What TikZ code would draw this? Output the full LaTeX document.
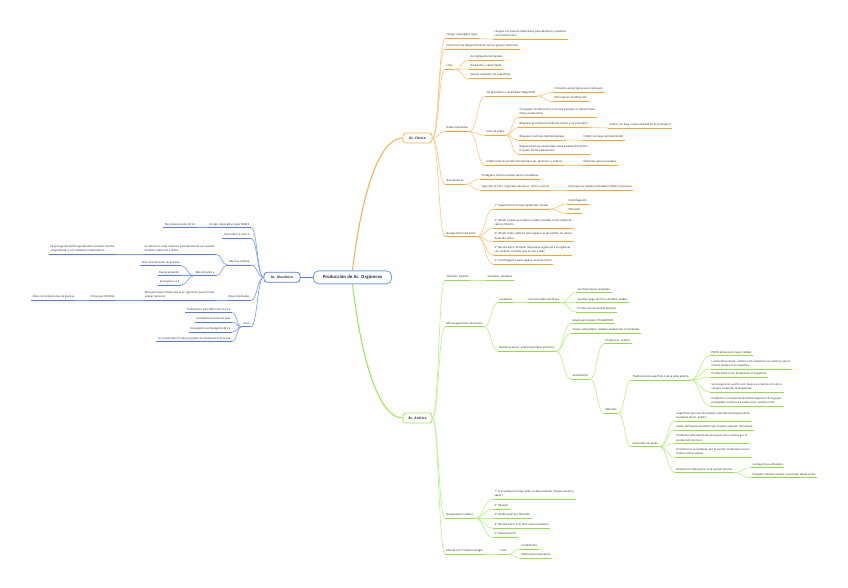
\documentclass[tikz,border=0pt]{standalone}
\usepackage{fontspec}
\setmainfont{Open Sans}
\usetikzlibrary{calc}
\definecolor{txt}{RGB}{30,30,30}
\definecolor{navy}{RGB}{40,52,72}
\definecolor{orU}{RGB}{255,165,45}
\definecolor{orC}{RGB}{255,200,130}
\definecolor{orM}{RGB}{255,178,80}
\definecolor{grU}{RGB}{145,226,60}
\definecolor{grC}{RGB}{190,240,140}
\definecolor{grM}{RGB}{160,232,85}
\definecolor{blU}{RGB}{82,128,240}
\definecolor{blC}{RGB}{120,160,245}
\definecolor{rootB}{RGB}{115,165,240}
\tikzset{
  leafbase/.style={font=\fontsize{2.7}{4.2}\selectfont, text=txt, inner xsep=1.4pt, inner ysep=1.9pt, text depth=0.6pt, align=left},
  oleaf/.style={leafbase, anchor=south west, append after command={(\tikzlastnode.south west) edge[draw=orU, line width=0.8pt] (\tikzlastnode.south east)}},
  gleaf/.style={leafbase, anchor=south west, append after command={(\tikzlastnode.south west) edge[draw=grU, line width=0.8pt] (\tikzlastnode.south east)}},
  bleaf/.style={leafbase, anchor=south east, append after command={(\tikzlastnode.south west) edge[draw=blU, line width=0.8pt] (\tikzlastnode.south east)}},
  ocon/.style={draw=orC, line width=0.65pt},
  gcon/.style={draw=grC, line width=0.65pt},
  bcon/.style={draw=blC, line width=0.65pt},
  subbox/.style={rounded corners=3pt, line width=0.8pt, fill=white, minimum width=29pt, minimum height=10pt, inner sep=0pt, font=\bfseries\fontsize{3.3}{4}\selectfont, text=navy},
  rootbox/.style={draw=rootB, rounded corners=5pt, line width=0.9pt, fill=white, minimum width=78pt, minimum height=13pt, inner sep=0pt, font=\bfseries\fontsize{4.2}{5}\selectfont, text=navy},
}
\newcommand\link[3]{\draw[#1] let \p1=(#2), \p2=(#3), \n1={(\x2-\x1)*0.5}, \n2={(\x1-\x2)*0.5} in (\p1) .. controls +(\n1,0) and +(\n2,0) .. (\p2);}
\begin{document}
\begin{tikzpicture}[x=1pt,y=-1pt]
\fill[white] (0,0) rectangle (848,588);
\useasboundingbox (0,0) rectangle (848,588);

% ---------- main nodes
\node[rootbox] (R) at (352.5,277.3) {Producción de Ac. Orgánicos};
\node[subbox, draw=orM] (AC) at (417.5,138) {Ác. Cítrico};
\node[subbox, draw=grM] (AA) at (417.5,418) {Ác. Acético};
\node[subbox, draw=blU, minimum width=36pt] (AG) at (282,277.3) {Ác. Glucónico};

\draw[orM, line width=1.1pt] (R.north) .. controls (362,190) and (380,138) .. (AC.west);
\draw[grM, line width=1.1pt] (R.south) .. controls (362,365) and (380,418) .. (AA.west);
\draw[blU, line width=1pt] (R.west) -- (AG.east);

% ---------- Acido citrico
\node[oleaf] (c1) at (445,38.7) {Hongo: Aspergillus niger};
\node[oleaf] (c1a) at (493,39) {Hongos son buenos fabricantes para alimento y catalizar\\como fuente de C};
\node[oleaf] (c2) at (445,49) {Forma técnica (Desprotonando los tres grupos carboxilo)};
\node[oleaf] (c3) at (445,69.3) {Usos};
\node[oleaf] (c3a) at (469,60) {Acomplejante de metales};
\node[oleaf] (c3b) at (469,69) {Acidulante y saborizante};
\node[oleaf] (c3c) at (469,78.7) {Evita la oxidación de superficies};
\node[oleaf] (c4) at (445,131.7) {Rutas implicadas};
\node[oleaf] (c4a) at (485,96) {Vía glucolítica o vía Embden Meyerhoff};
\node[oleaf] (c4a1) at (553,92.3) {Convierte azúcar (glucosa) en piruvato};
\node[oleaf] (c4a2) at (553,101.7) {NO requiere modificación};
\node[oleaf] (c4b) at (485,135.3) {Ciclo de Krebs};
\node[oleaf] (c4b1) at (518,117.7) {SÍ requiere modificación (en la ruta piruvato se transforma a\\CO2 y oxalacetato)};
\node[oleaf] (c4b2) at (518,127.5) {Bloquear aconitasa (transforma citrato a cis-aconitato)};
\node[oleaf] (c4b2a) at (608,128) {Inhibir con baja o nula cantidad de Fe (activador)};
\node[oleaf] (c4b3) at (518,140) {Bloquear isocitrato deshidrogenasa};
\node[oleaf] (c4b3a) at (582,140.3) {Inhibir con baja cantidad de Mn};
\node[oleaf] (c4b4) at (518,154) {Regeneración de oxalacetato: Ruta anaplerótica (CO2 +\\Piruvato forma oxalacetato)};
\node[oleaf] (c4c) at (485,165.3) {Inhibir rutas de producción laterales (ac. glucónico y oxálico)};
\node[oleaf] (c4c1) at (582,165.3) {Mutantes glucosa oxidasa};
\node[oleaf] (c5) at (445,184.3) {Biorreactores};
\node[oleaf] (c5a) at (480,179) {Protegidos contra la acidez (acero inoxidable)};
\node[oleaf] (c5b) at (480,190) {Soportan pH de 1-2 (producción de ac. cítrico a pH<2)};
\node[oleaf] (c5b1) at (567,190) {Evita que los metales (solubles) inhiban el proceso};
\node[oleaf] (c6) at (445,236.7) {Recuperación del ácido};
\node[oleaf] (c6a) at (493,209) {1° Separación de la fase líquida del micelio};
\node[oleaf] (c6a1) at (567,204) {Centrifugación};
\node[oleaf] (c6a2) at (567,213.7) {Filtración};
\node[oleaf] (c6b) at (493,228.3) {2° Añadir cal para precipitar el ácido (soluble) como citrato de\\calcio y filtrarlo};
\node[oleaf] (c6c) at (493,241.7) {3° Añadir ácido sulfúrico para separar la sal (sulfato de calcio)\\del ácido cítrico};
\node[oleaf] (c6d) at (493,255) {4° Decoloración: Eliminar impurezas orgánicas e inorgánicas\\con carbono activado que se une a ellas};
\node[oleaf] (c6e) at (493,264) {5° Centrifugación para separar el ácido cítrico};

\foreach \a/\b in {AC.east/c1, AC.east/c2, AC.east/c3, AC.east/c4, AC.east/c5, AC.east/c6,
  c1.south east/c1a, c3.south east/c3a, c3.south east/c3b, c3.south east/c3c,
  c4.south east/c4a, c4.south east/c4b, c4.south east/c4c,
  c4a.south east/c4a1, c4a.south east/c4a2,
  c4b.south east/c4b1, c4b.south east/c4b2, c4b.south east/c4b3, c4b.south east/c4b4,
  c4b2.south east/c4b2a, c4b3.south east/c4b3a, c4c.south east/c4c1,
  c5.south east/c5a, c5.south east/c5b, c5b.south east/c5b1,
  c6.south east/c6a, c6.south east/c6b, c6.south east/c6c, c6.south east/c6d, c6.south east/c6e,
  c6a.south east/c6a1, c6a.south east/c6a2}
  {\link{ocon}{\a}{\b.south west}}

% ---------- Acido gluconico
\node[bleaf] (g1) at (251,227.7) {Hongo: Aspergillus niger NRRL3};
\node[bleaf] (g1a) at (197,227.7) {No produce ácido cítrico};
\node[bleaf] (g2) at (251,238.3) {Se produce a pH 6-7};
\node[bleaf] (g3) at (251,265) {Glucosa oxidasa};
\node[bleaf] (g3a) at (216,254.3) {Se reduce en cada reacción, para devolverla a su estado\\oxidado reduce O2 a H2O2};
\node[bleaf] (g3a1) at (116,254.3) {Se protege del H2O2 separándolo al medio (mucha\\competencia) y con catalasas intracelulares};
\node[bleaf] (g3b) at (216,275.7) {Más eficiente a};
\node[bleaf] (g3b1) at (181,265.7) {Alta concentración de glucosa};
\node[bleaf] (g3b2) at (181,275.7) {Buena aireación};
\node[bleaf] (g3b3) at (181,285) {pH superior a 4};
\node[bleaf] (g4) at (251,300.3) {Rutas implicadas};
\node[bleaf] (g4a) at (216,300.3) {Ruta pentosas fosfato (usa el ác. glucónico para formar\\azúcar nucleico)};
\node[bleaf] (g4a1) at (116,300.3) {Sí hay que inhibirla};
\node[bleaf] (g4a1a) at (76,300.3) {Altas concentraciones de glucosa};
\node[bleaf] (g5) at (251,326.7) {Usos};
\node[bleaf] (g5a) at (232,312.7) {Tratamiento para déficit de Ca y Fe};
\node[bleaf] (g5b) at (232,322) {Acidulante (Levado de pan)};
\node[bleaf] (g5c) at (232,332) {Detergente acomplejante de Ca};
\node[bleaf] (g5d) at (232,341.7) {Su concentración indica el grado de maduración de la uva};

\foreach \a/\b in {AG.west/g1, AG.west/g2, AG.west/g3, AG.west/g4, AG.west/g5,
  g1.south west/g1a, g3.south west/g3a, g3.south west/g3b, g3a.south west/g3a1,
  g3b.south west/g3b1, g3b.south west/g3b2, g3b.south west/g3b3,
  g4.south west/g4a, g4a.south west/g4a1, g4a1.south west/g4a1a,
  g5.south west/g5a, g5.south west/g5b, g5.south west/g5c, g5.south west/g5d}
  {\link{bcon}{\a}{\b.south east}}

% ---------- Acido acetico
\node[gleaf] (a1) at (445,280) {Vehículo: líquidos};
\node[gleaf] (a1a) at (486,280) {Sustratos: pérdidas};
\node[gleaf] (a2) at (445,326.7) {Microorganismos necesarios};
\node[gleaf] (a2a) at (498,302.7) {Levaduras};
\node[gleaf] (a2a1) at (527,302.7) {Fermentación alcohólica};
\node[gleaf] (a2a1a) at (576,292.7) {Saccharomyces cerevisiae};
\node[gleaf] (a2a1b) at (576,302.7) {Sustrato (jugo de fruta, almidón, jarabe)};
\node[gleaf] (a2a1c) at (576,312) {Producción de alcohol (etanol)};
\node[gleaf] (a2b) at (498,351.3) {Bacterias del ác. acético (aerobios estrictos)};
\node[gleaf] (a2b1) at (571,323.7) {Grupo peroxydans: PELIGROSOS};
\node[gleaf] (a2b2) at (571,333.3) {Grupo suboxydans: realizan oxidaciones incompletas};
\node[gleaf] (a2b3) at (571,379) {Acetificación};
\node[gleaf] (a2b3a) at (604,343.7) {Produce ác. acético};
\node[gleaf] (a2b3b) at (604,413.3) {Métodos};
\node[gleaf] (m1) at (631,380) {Tradicional de superficie o de la cuba abierta};
\node[gleaf] (m1a) at (710,355.7) {POCO eficaz pero mejor calidad};
\node[gleaf] (m1b) at (710,369) {Las bacterias del ác. acético solo contactan con etanol y aire al\\mismo tiempo en la superficie};
\node[gleaf] (m1c) at (710,377.3) {Proliferación como biopelícula en superficie};
\node[gleaf] (m1d) at (710,392) {Se recoge el ác. acético por abajo y se repone con vino o\\cerveza sin alterar la biopelícula};
\node[gleaf] (m1e) at (710,406) {Problema: Si el sustrato alcohólico baja del 1\% el grupo\\peroxydans comienza a oxidar el ác. acético a CO2};
\node[gleaf] (m2) at (631,446.7) {Generador de goteo};
\node[gleaf] (m2a) at (675,421.3) {Superficies porosas de madera cubiertas de biopelícula de\\bacterias del ác. acético};
\node[gleaf] (m2b) at (675,430) {Goteo del líquido alcohólico por la parte superior del tanque};
\node[gleaf] (m2c) at (675,443.7) {Problema: Obturación de los huecos entre virutas por la\\producción de moco};
\node[gleaf] (m2d) at (675,457.3) {El alcohol se va oxidando por la sección media (aire en los\\huecos entre virutas)};
\node[gleaf] (m2e) at (675,472.7) {Recolección del acético en la sección inferior};
\node[gleaf] (m2e1) at (751,467.7) {La mayoría se almacena};
\node[gleaf] (m2e2) at (751,477.7) {Pequeño volumen vuelve a recircular desde arriba};
\node[gleaf] (a3) at (445,518.3) {Recuperación acético};
\node[gleaf] (a3a) at (493,499.3) {1° Si es producción tipo lento se deja madurar (mejora aroma y\\sabor)};
\node[gleaf] (a3b) at (493,509) {2° Dilución};
\node[gleaf] (a3c) at (493,518.3) {3° Clarificación por filtración};
\node[gleaf] (a3d) at (493,528) {4° Decoloración: Con ferrocianuro potásico};
\node[gleaf] (a3e) at (493,537.3) {5° Pasteurización};
\node[gleaf] (a4) at (445,554) {Mezcla con: Producir vinagre};
\node[gleaf] (a4a) at (499,554) {Usos};
\node[gleaf] (a4a1) at (520,549) {Condimento};
\node[gleaf] (a4a2) at (520,558.3) {Medicina/conservación};

\foreach \a/\b in {AA.east/a1, AA.east/a2, AA.east/a3, AA.east/a4,
  a1.south east/a1a, a2.south east/a2a, a2.south east/a2b, a2a.south east/a2a1,
  a2a1.south east/a2a1a, a2a1.south east/a2a1b, a2a1.south east/a2a1c,
  a2b.south east/a2b1, a2b.south east/a2b2, a2b.south east/a2b3,
  a2b3.south east/a2b3a, a2b3.south east/a2b3b,
  a2b3b.south east/m1, a2b3b.south east/m2,
  m1.south east/m1a, m1.south east/m1b, m1.south east/m1c, m1.south east/m1d, m1.south east/m1e,
  m2.south east/m2a, m2.south east/m2b, m2.south east/m2c, m2.south east/m2d, m2.south east/m2e,
  m2e.south east/m2e1, m2e.south east/m2e2,
  a3.south east/a3a, a3.south east/a3b, a3.south east/a3c, a3.south east/a3d, a3.south east/a3e,
  a4.south east/a4a, a4a.south east/a4a1, a4a.south east/a4a2}
  {\link{gcon}{\a}{\b.south west}}
\end{tikzpicture}
\end{document}
